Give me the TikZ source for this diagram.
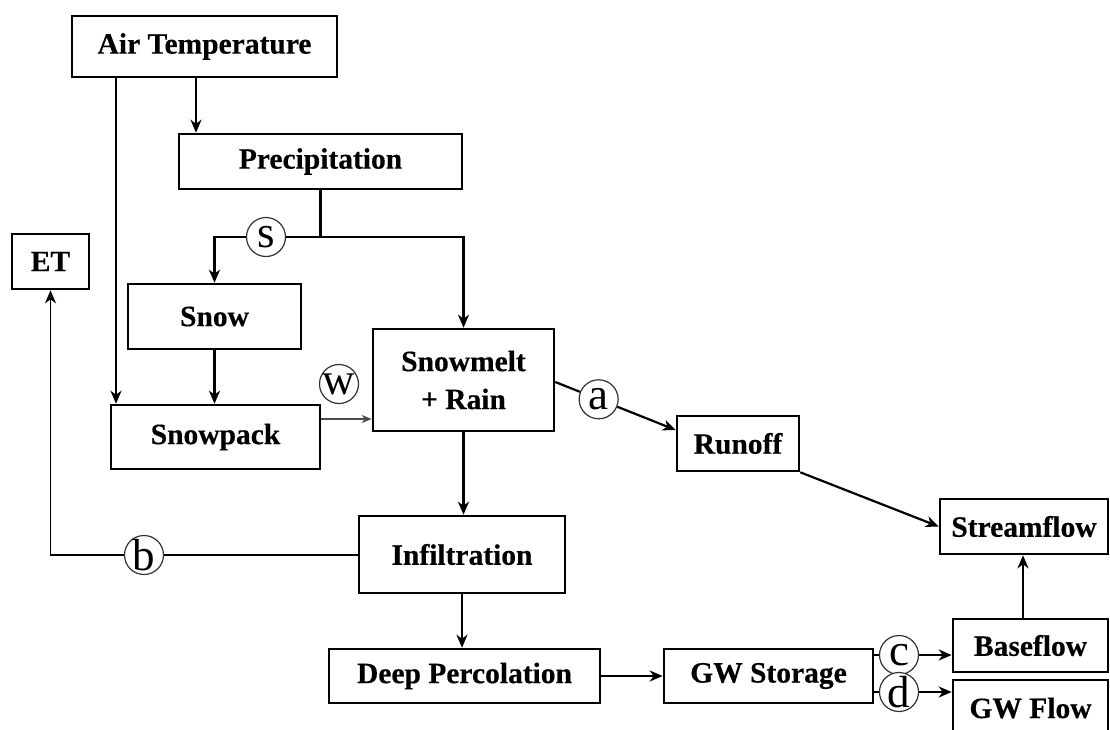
\documentclass[tikz,border=0pt]{standalone}
\usepackage{fontspec}
\setmainfont{Liberation Serif}[BoldFeatures={FakeBold=0.4}]
\usetikzlibrary{arrows.meta,calc}
\begin{document}
\begin{tikzpicture}[x=1pt,y=-1pt,
  box/.style={draw,line width=2.6pt,rectangle,inner sep=0pt,align=center,
    font=\fontsize{29.5}{38}\selectfont\bfseries},
  tag/.style={draw=black!80,line width=1.2pt,circle,inner sep=0pt,
    minimum size=39pt,fill=white,font=\fontsize{45}{45}\selectfont},
  tip/.style={-{Stealth[length=13pt,width=11pt,inset=4pt]}},
  link/.style={line width=2.2pt},
  flow/.style={link,tip},
  thinflow/.style={line width=1.5pt,draw=black!70,
    -{Stealth[length=10pt,width=8pt,inset=3pt]}},
]
\clip (0,0) rectangle (1110,729);

% boxes
\node[box,minimum width=265pt,minimum height=61pt] (airtemp) at (204.5,46.5) {Air Temperature};
\node[box,minimum width=283pt,minimum height=55pt] (precip) at (320.5,161.5) {Precipitation};
\node[box,minimum width=77pt,minimum height=55pt] (et) at (50.5,261.5) {ET};
\node[box,minimum width=173pt,minimum height=65pt] (snow) at (214.5,316.5) {Snow};
\node[box,minimum width=209pt,minimum height=64pt] (snowpack) at (215.5,437) {Snowpack};
\node[box,minimum width=181pt,minimum height=102pt] (snowmelt) at (463.5,380) {Snowmelt\\+ Rain};
\node[box,minimum width=122pt,minimum height=55pt] (runoff) at (738,443.5) {Runoff};
\node[box,minimum width=168pt,minimum height=55pt] (streamflow) at (1024,526.5) {Streamflow};
\node[box,minimum width=206pt,minimum height=77pt] (infil) at (462,554.5) {Infiltration};
\node[box,minimum width=271pt,minimum height=54pt] (deep) at (464.5,676) {Deep Percolation};
\node[box,minimum width=209pt,minimum height=54pt] (gws) at (768.5,676) {GW Storage};
\node[box,minimum width=155pt,minimum height=53pt] (baseflow) at (1030.5,645.5) {Baseflow};
\node[box,minimum width=155pt,minimum height=56pt] (gwflow) at (1030.5,708) {GW Flow};

% guide coordinates for connector positions
\coordinate (xT) at (196,0);
\coordinate (xL) at (116,0);
\coordinate (split) at (320.5,237);
\coordinate (yW) at (0,419);
\coordinate (aStart) at ($(snowmelt.east |- 0,382)$);
\coordinate (aEnd) at ($(runoff.west |- 0,430)$);
\coordinate (xQ) at (1023,0);

% circled tags
\node[tag] (s) at (266,237) {s};
\node[tag] (w) at (339,384) {w};
\node[tag] (a) at ($(aStart)!0.36!(aEnd)$) {a};
\node[tag] (b) at (144,555) {b};
\node[tag] (c) at (899,655) {c};
\node[tag] (d) at (899,692) {d};

% air temperature
\draw[flow] (airtemp.south -| xT) -- (precip.north -| xT);
\draw[flow] (airtemp.south -| xL) -- (snowpack.north -| xL);

% precipitation split into snow and rain
\draw[link] (precip.south) -- (split) -- (s);
\draw[flow] (s) -- (s -| snow.north) -- (snow.north);
\draw[flow] (split) -| (snowmelt.north);

% snow to snowpack to melt
\draw[flow] (snow.south) -- (snow.south |- snowpack.north);
\draw[thinflow] (snowpack.east |- yW) -- (snowmelt.west |- yW);

% runoff branch
\draw[link] (aStart) -- (a);
\draw[flow] (a) -- (aEnd);
\draw[flow] (runoff.south east) -- (streamflow.west);

% infiltration and evapotranspiration
\draw[flow] (snowmelt.south) -- (snowmelt.south |- infil.north);
\draw[link,line width=1.9pt] (infil.west |- b) -- (b);
\draw[flow,line width=1.9pt] (b) -- (b -| et.south) -- (et.south);

% groundwater
\draw[flow] (infil.south) -- (infil.south |- deep.north);
\draw[flow] (deep.east) -- (gws.west);
\draw[link] (gws.east |- c) -- (c);
\draw[flow] (c) -- (c -| baseflow.west);
\draw[link] (gws.east |- d) -- (d);
\draw[flow] (d) -- (d -| gwflow.west);
\draw[flow] (baseflow.north -| xQ) -- (streamflow.south -| xQ);
\end{tikzpicture}
\end{document}
